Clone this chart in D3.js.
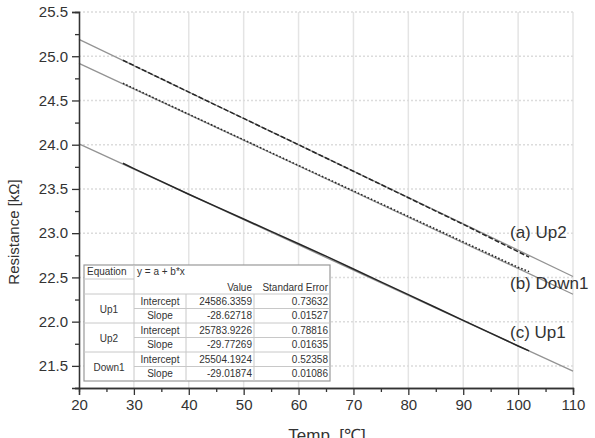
<!DOCTYPE html>
<html>
<head>
<meta charset="utf-8">
<script src="https://cdn.jsdelivr.net/npm/d3@7"></script>
<style>
  body { margin: 0; background: #fff; }
  svg { font-family: "Liberation Sans", Arial, sans-serif; }
</style>
</head>
<body>
<svg width="595" height="438"></svg>
<script>
'use strict';

var temps = [28, 30, 35, 40, 45, 50, 55, 60, 65, 70, 75, 80, 85, 90, 95, 100, 102];
var up1 = [23.79, 23.73, 23.585, 23.44, 23.30, 23.16, 23.02, 22.88, 22.74, 22.595, 22.45, 22.305, 22.16, 22.015, 21.87, 21.725, 21.67];
var up2 = [24.955, 24.895, 24.745, 24.595, 24.445, 24.297, 24.148, 24.0, 23.85, 23.70, 23.55, 23.40, 23.25, 23.10, 22.945, 22.79, 22.73];
var down1 = [24.695, 24.636, 24.49, 24.345, 24.2, 24.056, 23.91, 23.766, 23.622, 23.478, 23.334, 23.19, 23.046, 22.902, 22.758, 22.615, 22.565];

// linear fit lines (end points)
var fitTemps = [20, 110];
var fitUp1 = [24.01, 21.44];
var fitUp2 = [25.19, 22.51];
var fitDown1 = [24.92, 22.31];

var xTicks = [20, 30, 40, 50, 60, 70, 80, 90, 100, 110];
var yTicks = [21.5, 22.0, 22.5, 23.0, 23.5, 24.0, 24.5, 25.0, 25.5];

var labels = ['(a) Up2', '(b) Down1', '(c) Up1'];
var labelY = [22.945, 22.37, 21.815];

var tableHead = ['Equation', 'y = a + b*x', 'Value', 'Standard Error'];
var groups = ['Up1', 'Up2', 'Down1'];
var params = ['Intercept', 'Slope'];
var values = [['24586.3359', '-28.62718'], ['25783.9226', '-29.77269'], ['25504.1924', '-29.01874']];
var errors = [['0.73632', '0.01527'], ['0.78816', '0.01635'], ['0.52358', '0.01086']];

(() => {
  var svg = d3.select('svg');
  var x = d3.scaleLinear().domain([20, 110]).range([79, 573]);
  var y = d3.scaleLinear().domain([21.25, 25.5]).range([388, 12]);

  // grid
  var grid = svg.append('g');
  grid.selectAll('line.v').data(xTicks.slice(1)).enter().append('line')
    .attr('x1', d => x(d)).attr('x2', d => x(d))
    .attr('y1', y(25.5)).attr('y2', y(21.25))
    .attr('stroke', '#e4e4e4').attr('stroke-width', 1.5);
  grid.selectAll('line.h').data(yTicks).enter().append('line')
    .attr('x1', x(20)).attr('x2', x(110))
    .attr('y1', d => y(d)).attr('y2', d => y(d))
    .attr('stroke', '#dcdcdc').attr('stroke-width', 1.5)
    .attr('stroke-dasharray', '2,2');

  // fit lines
  var line = d3.line().x(d => x(d[0])).y(d => y(d[1]));
  [fitUp2, fitDown1, fitUp1].forEach(f => {
    svg.append('path')
      .datum(fitTemps.map((t, i) => [t, f[i]]))
      .attr('d', line)
      .attr('fill', 'none')
      .attr('stroke', '#939393')
      .attr('stroke-width', 1.3);
  });

  // measured lines
  var styles = [
    { v: up2, dash: '5,2' },
    { v: down1, dash: '1.6,2' },
    { v: up1, dash: null }
  ];
  styles.forEach(s => {
    svg.append('path')
      .datum(temps.map((t, i) => [t, s.v[i]]))
      .attr('d', line)
      .attr('fill', 'none')
      .attr('stroke', '#262626')
      .attr('stroke-width', 1.5)
      .attr('stroke-dasharray', s.dash);
  });

  // labels
  svg.selectAll('text.lab').data(labels).enter().append('text')
    .attr('x', 510)
    .attr('y', (d, i) => y(labelY[i]))
    .attr('font-size', 17)
    .attr('fill', '#333')
    .text(d => d);

  // axes
  var xAxis = d3.axisBottom(x).tickValues(xTicks).tickSize(7).tickPadding(4).tickFormat(d3.format('d'));
  var xMinor = d3.axisBottom(x).tickValues(d3.range(25, 110, 10)).tickSize(4).tickFormat('');
  var yAxis = d3.axisLeft(y).tickValues(yTicks).tickSize(7).tickPadding(4).tickFormat(d3.format('.1f'));
  var yMinor = d3.axisLeft(y).tickValues([21.25, 21.75, 22.25, 22.75, 23.25, 23.75, 24.25, 24.75, 25.25]).tickSize(4).tickFormat('');

  var gx = svg.append('g').attr('transform', 'translate(0,388)').call(xAxis);
  svg.append('g').attr('transform', 'translate(0,388)').call(xMinor);
  var gy = svg.append('g').attr('transform', 'translate(79,0)').call(yAxis);
  svg.append('g').attr('transform', 'translate(79,0)').call(yMinor);

  svg.selectAll('.domain, .tick line').attr('stroke', '#333').attr('stroke-width', 1.3);
  gx.selectAll('text').attr('font-size', 15).attr('fill', '#333').attr('font-family', 'Liberation Sans, Arial, sans-serif');
  gy.selectAll('text').attr('font-size', 15).attr('fill', '#333').attr('font-family', 'Liberation Sans, Arial, sans-serif');

  svg.append('text')
    .attr('transform', 'translate(19,232) rotate(-90)')
    .attr('text-anchor', 'middle')
    .attr('font-size', 15)
    .attr('fill', '#333')
    .text('Resistance [kΩ]');
  svg.append('text')
    .attr('x', 327).attr('y', 441)
    .attr('text-anchor', 'middle')
    .attr('font-size', 17)
    .attr('fill', '#333')
    .text('Temp. [℃]');

  // fit result table
  var cols = [84, 134, 186, 254, 330];
  var top = 265, headMid = 279, headBot = 294, rowH = 14.5, bot = headBot + rowH * 6;
  var tb = svg.append('g').attr('font-size', 10).attr('fill', '#333');
  tb.append('rect')
    .attr('x', cols[0]).attr('y', top)
    .attr('width', cols[4] - cols[0]).attr('height', bot - top)
    .attr('fill', '#fff').attr('stroke', '#999').attr('stroke-width', 1.2);
  var thin = (x1, y1, x2, y2) => tb.append('line')
    .attr('x1', x1).attr('y1', y1).attr('x2', x2).attr('y2', y2)
    .attr('stroke', '#c8c8c8').attr('stroke-width', 1);
  thin(cols[1], top, cols[1], bot);
  thin(cols[0], headMid, cols[1], headMid);
  thin(cols[2], headBot, cols[2], bot);
  thin(cols[3], headBot, cols[3], bot);
  groups.forEach((g, i) => thin(cols[0], headBot + i * rowH * 2, cols[4], headBot + i * rowH * 2));
  groups.forEach((g, i) => thin(cols[1], headBot + i * rowH * 2 + rowH, cols[4], headBot + i * rowH * 2 + rowH));

  tb.append('text').attr('x', cols[0] + 3).attr('y', top + 10).text(tableHead[0]);
  tb.append('text').attr('x', cols[1] + 3).attr('y', top + 10).text(tableHead[1]);
  tb.append('text').attr('x', cols[3] - 2).attr('y', top + 26).attr('text-anchor', 'end').text(tableHead[2]);
  tb.append('text').attr('x', cols[4] - 2).attr('y', top + 26).attr('text-anchor', 'end').text(tableHead[3]);

  groups.forEach((g, i) => {
    var y0 = headBot + i * rowH * 2;
    tb.append('text').attr('x', (cols[0] + cols[1]) / 2).attr('y', y0 + rowH + 4)
      .attr('text-anchor', 'middle').text(g);
    params.forEach((p, j) => {
      var yy = y0 + j * rowH + 10.5;
      tb.append('text').attr('x', (cols[1] + cols[2]) / 2).attr('y', yy).attr('text-anchor', 'middle').text(p);
      tb.append('text').attr('x', cols[3] - 2).attr('y', yy).attr('text-anchor', 'end').text(values[i][j]);
      tb.append('text').attr('x', cols[4] - 2).attr('y', yy).attr('text-anchor', 'end').text(errors[i][j]);
    });
  });
})();
</script>
</body>
</html>
